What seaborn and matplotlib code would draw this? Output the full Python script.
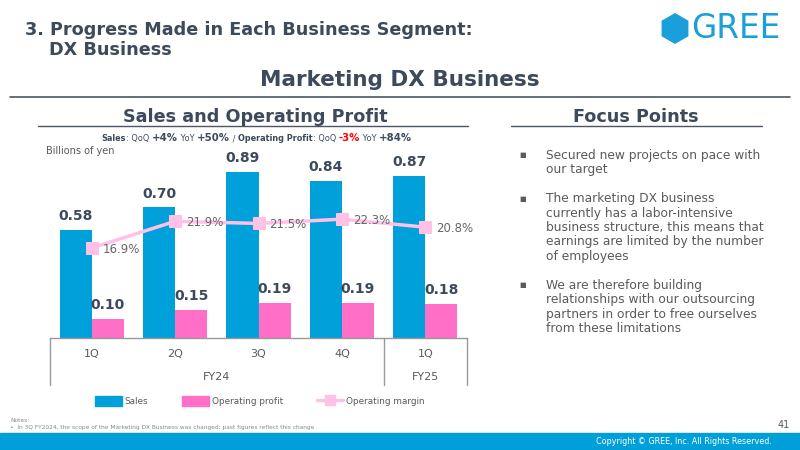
import numpy as np
import pandas as pd
import seaborn as sns
import matplotlib.pyplot as plt
from matplotlib.patches import RegularPolygon, Rectangle, Patch
from matplotlib.lines import Line2D

# ==== Data ====
quarters = ["1Q", "2Q", "3Q", "4Q", "1Q"]
fiscal_years = ["FY24", "FY24", "FY24", "FY24", "FY25"]
sales = [0.58, 0.70, 0.89, 0.84, 0.87]
op_profit = [0.10, 0.15, 0.19, 0.19, 0.18]
op_margin = [16.9, 21.9, 21.5, 22.3, 20.8]

focus_points = [
    ["Secured new projects on pace with", "our target"],
    ["The marketing DX business", "currently has a labor-intensive",
     "business structure, this means that", "earnings are limited by the number",
     "of employees"],
    ["We are therefore building", "relationships with our outsourcing",
     "partners in order to free ourselves", "from these limitations"],
]

BLUE = "#00a0da"
PINK = "#ff6ec7"
LIGHT_PINK = "#ffc2e6"
DARK = "#3d4a5c"
GRAY = "#5a5a5a"

sns.set_theme(style="white")
plt.rcParams["font.family"] = ["DejaVu Sans"]


def fx(x):
    return x / 800


def fy(y):
    return 1 - y / 450


fig = plt.figure(figsize=(8, 4.5), dpi=100)

# ==== Header ====
fig.text(fx(25), fy(30), "3. Progress Made in Each Business Segment:", fontsize=12.7,
         fontweight="bold", color=DARK, va="center")
fig.text(fx(49), fy(50), "DX Business", fontsize=12.7, fontweight="bold", color=DARK, va="center")
fig.text(0.5, fy(80), "Marketing DX Business", fontsize=15.5, fontweight="bold",
         color=DARK, ha="center", va="center")
fig.add_artist(Line2D([fx(10), fx(790)], [fy(97)] * 2, color="#4a5666", lw=1.2))

# logo
fig.add_artist(RegularPolygon((6.75, 4.5 - 0.285), numVertices=6, radius=0.147,
                              orientation=0, color="#1a9fdb",
                              transform=fig.dpi_scale_trans))
fig.text(fx(691), fy(29), "GREE", fontsize=23.5, color="#1a9fdb", va="center")

# section titles
fig.text(fx(255), fy(117), "Sales and Operating Profit", fontsize=12.7, fontweight="bold",
         color=DARK, ha="center", va="center")
fig.add_artist(Line2D([fx(38), fx(468)], [fy(126)] * 2, color="#4a5666", lw=1))
fig.text(fx(636), fy(117), "Focus Points", fontsize=12.7, fontweight="bold",
         color=DARK, ha="center", va="center")
fig.add_artist(Line2D([fx(511), fx(762)], [fy(126)] * 2, color="#4a5666", lw=1))

# growth subtitle built from pieces
pieces = [("Sales", "bold", 5.9, DARK), (": QoQ ", "normal", 5.9, DARK),
          ("+4%", "bold", 7.3, DARK), (" YoY ", "normal", 5.9, DARK),
          ("+50%", "bold", 7.3, DARK), (" / ", "normal", 5.9, DARK),
          ("Operating Profit", "bold", 5.9, DARK), (": QoQ ", "normal", 5.9, DARK),
          ("-3%", "bold", 7.3, "#ff0000"), (" YoY ", "normal", 5.9, DARK),
          ("+84%", "bold", 7.3, DARK)]
renderer = fig.canvas.get_renderer()
texts, widths = [], []
for s, w, sz, c in pieces:
    t = fig.text(0, fy(141), s, fontsize=sz, fontweight=w, color=c, va="baseline")
    widths.append(t.get_window_extent(renderer).width)
    texts.append(t)
x0 = 257 - sum(widths) / 2
for t, w in zip(texts, widths):
    t.set_x(fx(x0))
    x0 += w

fig.text(fx(46), fy(151), "Billions of yen", fontsize=7, color=GRAY, va="center")

# ==== Chart ====
ax = fig.add_axes([fx(50), fy(338), fx(417), 186.5 / 450])
periods = [f"{q} {f}" for q, f in zip(quarters, fiscal_years)]
df = pd.DataFrame({
    "period": periods * 2,
    "value": sales + op_profit,
    "series": ["Sales"] * 5 + ["Operating profit"] * 5,
})
sns.barplot(data=df, x="period", y="value", hue="series", palette=[BLUE, PINK],
            saturation=1, width=0.77, linewidth=0, ax=ax, legend=False)
for cont, vals in zip(ax.containers, [sales, op_profit]):
    ax.bar_label(cont, labels=[f"{v:.2f}" for v in vals], padding=5, fontsize=10,
                 fontweight="bold", color=DARK)
ax.set_xlim(-0.5, 4.5)
ax.set_ylim(0, 1.0)
ax.set_xlabel("")
ax.set_ylabel("")
ax.set_yticks([])
ax.tick_params(axis="x", length=0, labelbottom=False)
for side in ["top", "left", "right"]:
    ax.spines[side].set_visible(False)
ax.spines["bottom"].set_color("#999999")
ax.spines["bottom"].set_linewidth(1)

# category table under the axis
trans = ax.get_xaxis_transform()
for xv in [-0.5, 3.5, 4.5]:
    ax.plot([xv, xv], [0, -0.252], transform=trans, clip_on=False, color="#999999", lw=1)
for i, q in enumerate(quarters):
    ax.text(i, -0.088, q, transform=trans, ha="center", va="center", fontsize=8, color=GRAY)
fy_groups = pd.Series(range(len(fiscal_years))).groupby(fiscal_years).mean()
for name, pos in fy_groups.items():
    ax.text(pos, -0.207, name, transform=trans, ha="center", va="center", fontsize=8, color=GRAY)

# operating margin line
ax2 = ax.twinx()
sns.lineplot(x=np.arange(len(op_margin)), y=op_margin, ax=ax2, color=LIGHT_PINK, lw=2.5,
             marker="s", markersize=8, markeredgecolor=LIGHT_PINK)
ax2.set_ylim(0, 35)
ax2.set_yticks([])
ax2.set_ylabel("")
for side in ax2.spines:
    ax2.spines[side].set_visible(False)
for i, m in enumerate(op_margin):
    ax2.annotate(f"{m}%", (i, m), xytext=(8, -1), textcoords="offset points",
                 ha="left", va="center", fontsize=8.5, color="#666666")

handles = [Patch(color=BLUE), Patch(color=PINK),
           Line2D([], [], color=LIGHT_PINK, lw=2.5, marker="s", markersize=7)]
fig.legend(handles, ["Sales", "Operating profit", "Operating margin"], loc="center",
           bbox_to_anchor=(fx(260), fy(401)), ncol=3, frameon=False, fontsize=6.4,
           labelcolor=GRAY, handlelength=3.0, handleheight=1.5, columnspacing=3.8,
           handletextpad=0.3)

# ==== Focus points ====
y = 155
for para in focus_points:
    fig.text(fx(523), fy(y), "■", fontsize=5, color=GRAY, ha="center", va="center")
    for line in para:
        fig.text(fx(546), fy(y), line, fontsize=8.8, color=GRAY, va="center")
        y += 14.5
    y += 14.5

# ==== Footer ====
fig.text(fx(10), fy(421), "Notes:", fontsize=4.2, color="#888888", va="center")
fig.text(fx(10), fy(428), "•  In 3Q FY2024, the scope of the Marketing DX Business was changed; "
         "past figures reflect this change", fontsize=4.2, color="#888888", va="center")
fig.text(fx(790), fy(425), "41", fontsize=7, color=GRAY, ha="right", va="center")
fig.add_artist(Rectangle((0, 0), 1, 17 / 450, transform=fig.transFigure, color="#009fda"))
fig.text(fx(772), fy(441), "Copyright © GREE, Inc. All Rights Reserved.", fontsize=5.8,
         color="white", ha="right", va="center")

fig.savefig("out.png", dpi=100)
